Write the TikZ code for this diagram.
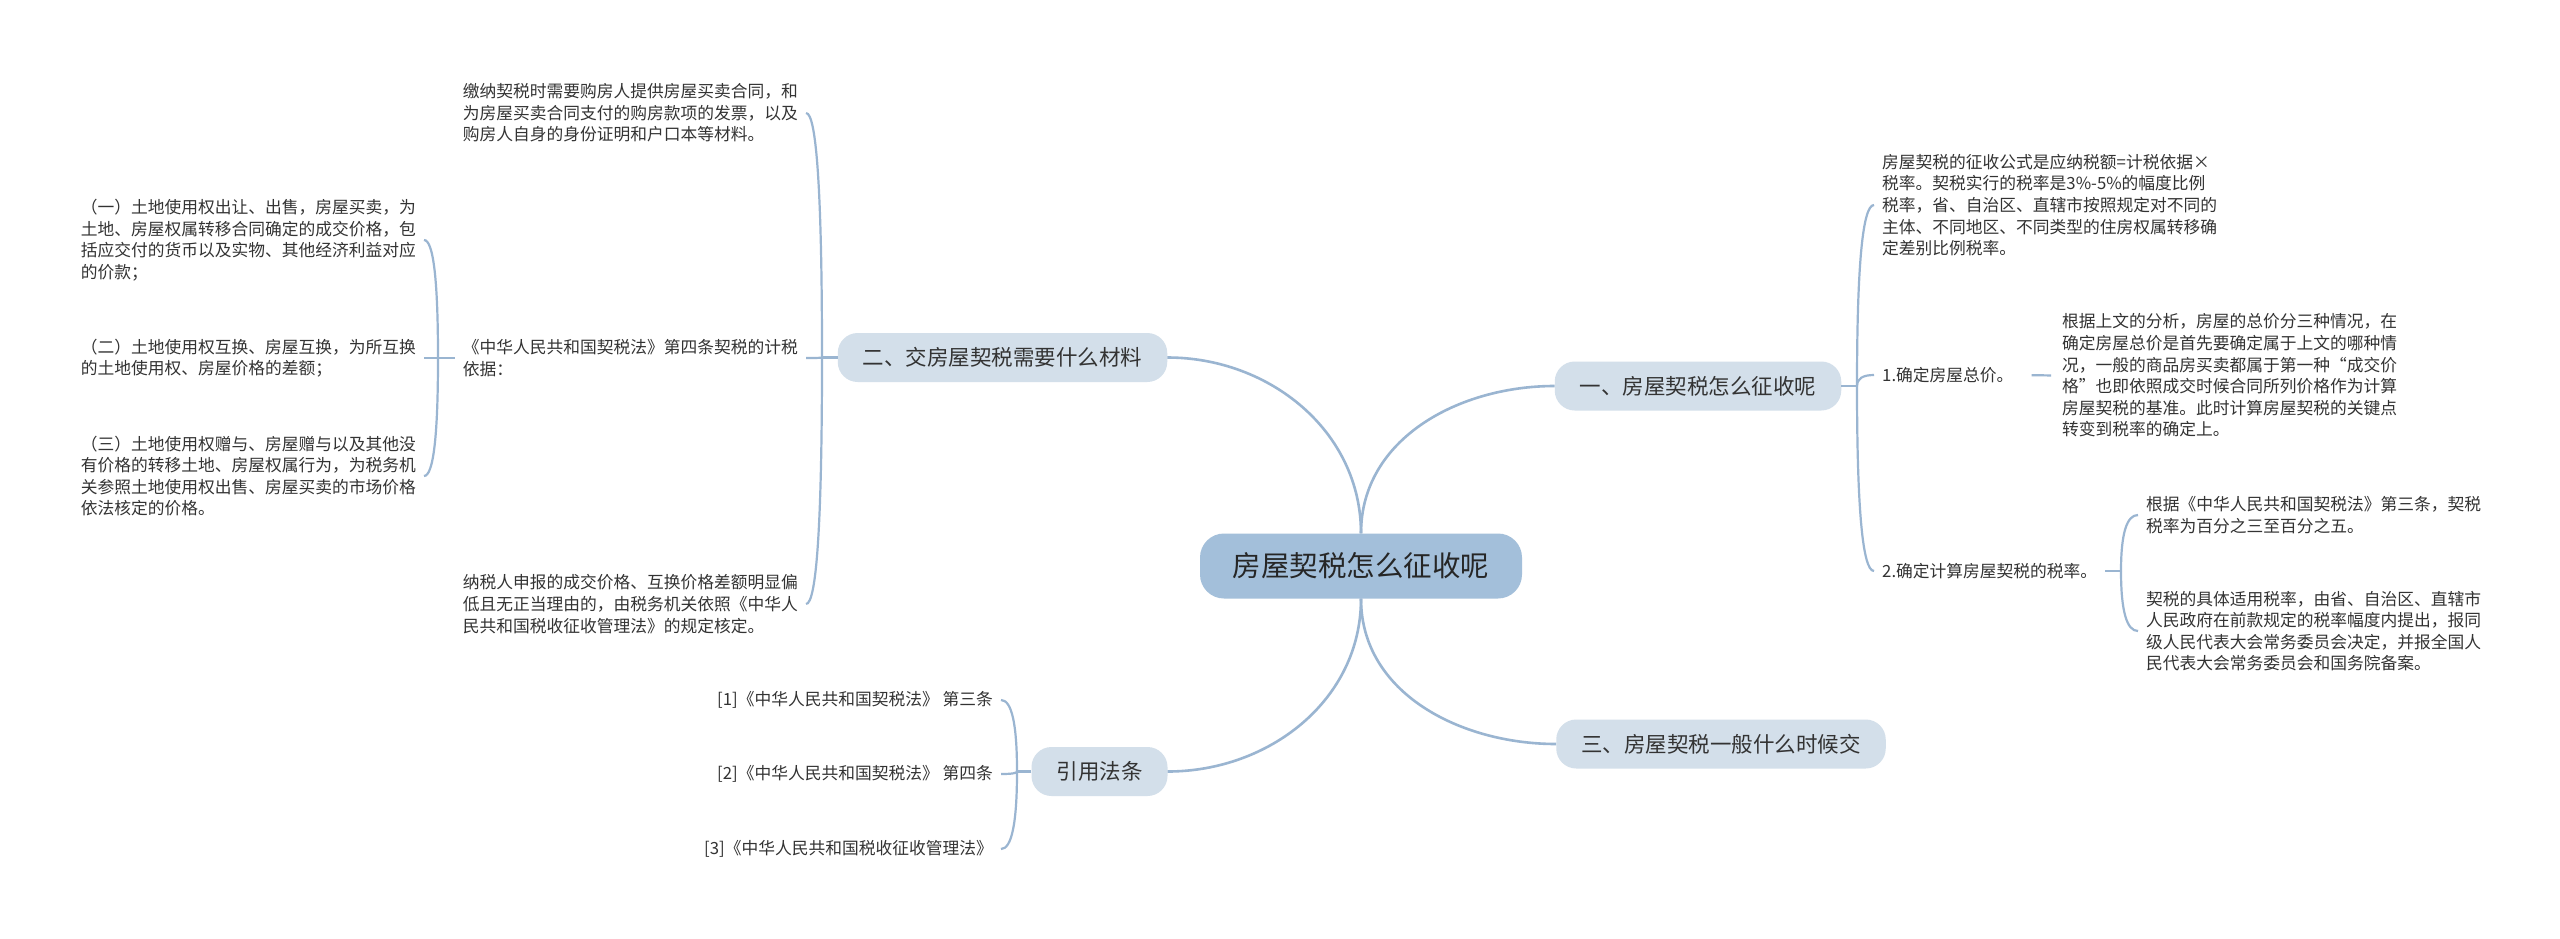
\documentclass[tikz,border=0pt]{standalone}
\usepackage{fontspec}
\setmainfont{Noto Sans CJK SC}
\usetikzlibrary{calc}
\definecolor{linec}{HTML}{9AB5D1}
\definecolor{rootc}{HTML}{A3BFDA}
\definecolor{branchc}{HTML}{D3DFEA}
\definecolor{txt}{HTML}{333333}
\newcommand{\brk}[2]{\draw[conn] (#1) .. controls ($(#1)!0.667!(#1|-#2)$) and ($(#2)!0.667!(#1|-#2)$) .. (#2);}
\begin{document}
\begin{tikzpicture}[x=1pt,y=-1pt,
  main/.style={draw=linec,line width=2.6pt},
  conn/.style={draw=linec,line width=2.2pt},
  rootbox/.style={fill=rootc,rounded corners=24pt,minimum height=65pt,minimum width=322pt,inner xsep=0pt,font=\fontsize{28.5}{34}\selectfont,text=black!85},
  branchbox/.style={fill=branchc,rounded corners=20pt,minimum height=49pt,inner xsep=25pt,inner ysep=0pt,font=\fontsize{21.5}{26}\selectfont,text=txt},
  leaf/.style={inner xsep=8pt,inner ysep=0pt,font=\fontsize{16.75}{21.6}\selectfont,text=txt,align=left},
]
\useasboundingbox (0,0) rectangle (2560,938);
\fill[white] (0,0) rectangle (2560,938);

% central and main branches
\node[rootbox] (root) at (1361,566) {房屋契税怎么征收呢};
\node[branchbox] (b1) at (1698,386) {一、房屋契税怎么征收呢};
\node[branchbox] (b2) at (1002.5,357.5) {二、交房屋契税需要什么材料};
\node[branchbox] (b3) at (1721,744) {三、房屋契税一般什么时候交};
\node[branchbox] (b4) at (1099.5,771.5) {引用法条};

\begin{scope}[on background layer/.style={}]
\draw[main] (root.north) to[out=90,in=180] (b1.west);
\draw[main] (root.north) to[out=90,in=0] (b2.east);
\draw[main] (root.south) to[out=-90,in=180] (b3.west);
\draw[main] (root.south) to[out=-90,in=0] (b4.east);
\end{scope}

% right side leaves
\node[leaf,anchor=west] (e1) at (1874,205) {房屋契税的征收公式是应纳税额=计税依据×\\税率。契税实行的税率是3\%-5\%的幅度比例\\税率，省、自治区、直辖市按照规定对不同的\\主体、不同地区、不同类型的住房权属转移确\\定差别比例税率。};
\node[leaf,anchor=west] (e2) at (1874,375) {1.确定房屋总价。};
\node[leaf,anchor=west] (e3) at (1874,571) {2.确定计算房屋契税的税率。};
\node[leaf,anchor=west] (f1) at (2054,375.5) {根据上文的分析，房屋的总价分三种情况，在\\确定房屋总价是首先要确定属于上文的哪种情\\况，一般的商品房买卖都属于第一种“成交价\\格”也即依照成交时候合同所列价格作为计算\\房屋契税的基准。此时计算房屋契税的关键点\\转变到税率的确定上。};
\node[leaf,anchor=west] (g1) at (2138,515) {根据《中华人民共和国契税法》第三条，契税\\税率为百分之三至百分之五。};
\node[leaf,anchor=west] (g2) at (2138,631) {契税的具体适用税率，由省、自治区、直辖市\\人民政府在前款规定的税率幅度内提出，报同\\级人民代表大会常务委员会决定，并报全国人\\民代表大会常务委员会和国务院备案。};

% left side leaves
\node[leaf,anchor=east] (d1) at (806,113) {缴纳契税时需要购房人提供房屋买卖合同，和\\为房屋买卖合同支付的购房款项的发票，以及\\购房人自身的身份证明和户口本等材料。};
\node[leaf,anchor=east] (d2) at (806,358) {《中华人民共和国契税法》第四条契税的计税\\依据：};
\node[leaf,anchor=east] (d3) at (806,604) {纳税人申报的成交价格、互换价格差额明显偏\\低且无正当理由的，由税务机关依照《中华人\\民共和国税收征收管理法》的规定核定。};
\node[leaf,anchor=east] (ca) at (424,240) {（一）土地使用权出让、出售，房屋买卖，为\\土地、房屋权属转移合同确定的成交价格，包\\括应交付的货币以及实物、其他经济利益对应\\的价款；};
\node[leaf,anchor=east] (cb) at (424,358) {（二）土地使用权互换、房屋互换，为所互换\\的土地使用权、房屋价格的差额；};
\node[leaf,anchor=east] (cc) at (424,476) {（三）土地使用权赠与、房屋赠与以及其他没\\有价格的转移土地、房屋权属行为，为税务机\\关参照土地使用权出售、房屋买卖的市场价格\\依法核定的价格。};
\node[leaf,anchor=east] (r1) at (1001,700) {[1]《中华人民共和国契税法》 第三条};
\node[leaf,anchor=east] (r2) at (1001,774) {[2]《中华人民共和国契税法》 第四条};
\node[leaf,anchor=east] (r3) at (1001,849) {[3]《中华人民共和国税收征收管理法》};

% junctions
\coordinate (j1) at (1857,386);
\coordinate (j2) at (822,357.5);
\coordinate (jd) at (438,358);
\coordinate (j4) at (1017,771.5);
\coordinate (je3) at (2121,571);

% connectors of branch one
\draw[conn] (b1.east) -- (j1);
\brk{j1}{e1.west}
\brk{j1}{e2.west}
\brk{j1}{e3.west}
\draw[conn,shorten <=10pt,shorten >=3pt] (e2.east) -- (f1.west);
\draw[conn] (e3.east) -- (je3);
\brk{je3}{g1.west}
\brk{je3}{g2.west}

% connectors of branch two
\draw[conn] (b2.west) -- (j2);
\brk{j2}{d1.east}
\brk{j2}{d2.east}
\brk{j2}{d3.east}
\draw[conn] (d2.west) -- (jd);
\brk{jd}{ca.east}
\brk{jd}{cb.east}
\brk{jd}{cc.east}

% connectors of references
\draw[conn] (b4.west) -- (j4);
\brk{j4}{r1.east}
\brk{j4}{r2.east}
\brk{j4}{r3.east}
\end{tikzpicture}
\end{document}
